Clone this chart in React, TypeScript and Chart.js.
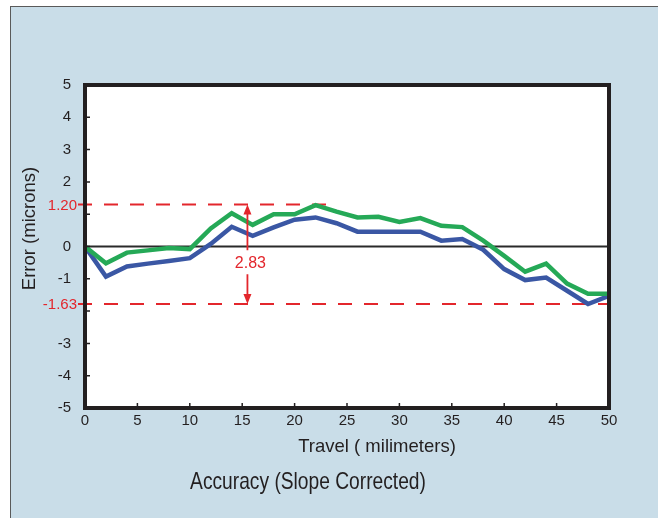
import React, { useEffect, useRef } from "react";
import { Chart, registerables } from "chart.js";

Chart.register(...registerables);

// ---- data ----
const travel = [0, 2, 4, 6, 8, 10, 12, 14, 16, 18, 20, 22, 24, 26, 28, 30, 32, 34, 36, 38, 40, 42, 44, 46, 48, 50];
const greenError = [0, -0.52, -0.19, -0.12, -0.05, -0.08, 0.56, 1.03, 0.67, 1.0, 1.0, 1.28, 1.08, 0.9, 0.92, 0.76, 0.88, 0.64, 0.6, 0.18, -0.29, -0.78, -0.53, -1.15, -1.46, -1.46];
const blueError = [0, -0.93, -0.62, -0.53, -0.45, -0.36, 0.08, 0.61, 0.33, 0.59, 0.83, 0.9, 0.72, 0.46, 0.46, 0.46, 0.46, 0.18, 0.23, -0.1, -0.7, -1.04, -0.96, -1.37, -1.78, -1.53];

const yMin = -5;
const yMax = 5;
const xMin = 0;
const xMax = 50;
const xStep = 5;
const yStep = 1;
const hiddenYTicks = [1, -2];

const limitLevels = [1.3, -1.78];
const limitLabels = ["1.20", "-1.63"];
const limitEnds = [24, 50];
const spanX = 15.5;
const spanLabel = "2.83";

const yTitle = "Error (microns)";
const xTitle = "Travel ( milimeters)";
const caption = "Accuracy (Slope Corrected)";

const TEXT = "#231f20";
const RED = "#e3262c";
const GREEN = "#25a957";
const BLUE = "#3a57a4";
const FONT = "'Liberation Sans', Arial, sans-serif";

const decorPlugin = {
  id: "decor",
  beforeDatasetsDraw(chart: any) {
    const { ctx, chartArea: a, scales } = chart;
    const x = scales.x;
    const y = scales.y;
    ctx.save();
    // zero line
    const y0 = y.getPixelForValue(0);
    ctx.strokeStyle = "#2a2a2a";
    ctx.lineWidth = 2;
    ctx.beginPath();
    ctx.moveTo(a.left, y0);
    ctx.lineTo(a.right, y0);
    ctx.stroke();
    // dashed limit lines
    ctx.strokeStyle = RED;
    ctx.lineWidth = 2;
    ctx.setLineDash([14, 12]);
    limitLevels.forEach((lv, i) => {
      const py = y.getPixelForValue(lv);
      ctx.beginPath();
      ctx.moveTo(a.left - 7, py);
      ctx.lineTo(x.getPixelForValue(limitEnds[i]), py);
      ctx.stroke();
    });
    ctx.setLineDash([]);
    ctx.restore();
  },
  afterDatasetsDraw(chart: any) {
    const { ctx, chartArea: a, scales } = chart;
    const x = scales.x;
    const y = scales.y;
    ctx.save();
    // frame
    ctx.strokeStyle = TEXT;
    ctx.lineWidth = 4;
    ctx.strokeRect(a.left, a.top, a.right - a.left, a.bottom - a.top);
    // inward ticks
    ctx.lineWidth = 1.5;
    ctx.beginPath();
    for (let v = yMin + yStep; v < yMax; v += yStep) {
      const py = y.getPixelForValue(v);
      ctx.moveTo(a.left, py);
      ctx.lineTo(a.left + 5, py);
    }
    for (let v = xMin + xStep; v < xMax; v += xStep) {
      const px = x.getPixelForValue(v);
      ctx.moveTo(px, a.bottom);
      ctx.lineTo(px, a.bottom - 5);
    }
    ctx.stroke();
    // red limit labels
    ctx.fillStyle = RED;
    ctx.font = `15px ${FONT}`;
    ctx.textAlign = "right";
    ctx.textBaseline = "middle";
    limitLevels.forEach((lv, i) => {
      ctx.fillText(limitLabels[i], a.left - 8, y.getPixelForValue(lv) + 1);
    });
    // span arrow
    const ax = x.getPixelForValue(spanX);
    const yTop = y.getPixelForValue(limitLevels[0]);
    const yBot = y.getPixelForValue(limitLevels[1]);
    const mid = (yTop + yBot) / 2 + 8;
    ctx.strokeStyle = RED;
    ctx.lineWidth = 1.8;
    ctx.beginPath();
    ctx.moveTo(ax, yTop + 4);
    ctx.lineTo(ax, mid - 12);
    ctx.moveTo(ax, mid + 12);
    ctx.lineTo(ax, yBot - 4);
    ctx.stroke();
    ctx.beginPath();
    ctx.moveTo(ax, yTop);
    ctx.lineTo(ax - 4, yTop + 10);
    ctx.lineTo(ax + 4, yTop + 10);
    ctx.closePath();
    ctx.moveTo(ax, yBot);
    ctx.lineTo(ax - 4, yBot - 10);
    ctx.lineTo(ax + 4, yBot - 10);
    ctx.closePath();
    ctx.fill();
    ctx.font = `16px ${FONT}`;
    ctx.textAlign = "center";
    ctx.fillText(spanLabel, ax + 3, mid + 1);
    // titles
    ctx.fillStyle = TEXT;
    ctx.font = `18.5px ${FONT}`;
    ctx.textAlign = "center";
    ctx.textBaseline = "middle";
    ctx.fillText(xTitle, (a.left + a.right) / 2 + 30, a.bottom + 39);
    ctx.save();
    ctx.translate(19, (a.top + a.bottom) / 2 - 18);
    ctx.rotate(-Math.PI / 2);
    ctx.fillText(yTitle, 0, 0);
    ctx.restore();
    // condensed caption
    ctx.save();
    ctx.translate(a.left + 223, a.bottom + 74);
    ctx.scale(0.8, 1);
    ctx.font = `24px ${FONT}`;
    ctx.fillText(caption, 0, 0);
    ctx.restore();
    ctx.restore();
  },
};

export default function App() {
  const ref = useRef<HTMLCanvasElement | null>(null);
  useEffect(() => {
    if (!ref.current) return;
    const chart = new Chart(ref.current, {
      type: "line",
      data: {
        datasets: [
          {
            label: "Green",
            data: travel.map((t, i) => ({ x: t, y: greenError[i] })),
            borderColor: GREEN,
            borderWidth: 4.5,
            pointRadius: 0,
            tension: 0,
            fill: false,
          },
          {
            label: "Blue",
            data: travel.map((t, i) => ({ x: t, y: blueError[i] })),
            borderColor: BLUE,
            borderWidth: 4.5,
            pointRadius: 0,
            tension: 0,
            fill: false,
          },
        ],
      },
      options: {
        animation: false,
        responsive: false,
        maintainAspectRatio: false,
        layout: { padding: { left: 0, top: 78, right: 49, bottom: 0 } },
        plugins: { legend: { display: false }, tooltip: { enabled: false } },
        scales: {
          x: {
            type: "linear",
            min: xMin,
            max: xMax,
            grid: { display: false, drawTicks: false },
            border: { display: false },
            ticks: {
              stepSize: xStep,
              padding: 4,
              color: TEXT,
              font: { family: FONT, size: 15 },
              maxRotation: 0,
              callback: (v: any) => String(v),
            },
            afterFit: (s: any) => {
              s.height = 110;
            },
          },
          y: {
            type: "linear",
            min: yMin,
            max: yMax,
            grid: { display: false, drawTicks: false },
            border: { display: false },
            ticks: {
              stepSize: yStep,
              padding: 14,
              color: TEXT,
              font: { family: FONT, size: 15 },
              callback: (v: any) => (hiddenYTicks.includes(Number(v)) ? "" : String(v)),
            },
            afterFit: (s: any) => {
              s.width = 74;
            },
          },
        },
      },
      plugins: [
        {
          id: "plotBg",
          beforeDatasetsDraw(chart: any) {
            const { ctx, chartArea: a } = chart;
            ctx.save();
            ctx.fillStyle = "#ffffff";
            ctx.fillRect(a.left, a.top, a.right - a.left, a.bottom - a.top);
            ctx.restore();
          },
        },
        decorPlugin,
      ],
    } as any);
    return () => chart.destroy();
  }, []);

  return (
    <div
      style={{
        position: "absolute",
        left: 10,
        top: 6,
        width: 648,
        height: 512,
        background: "#c9dde8",
        borderLeft: "1.5px solid #5a5a5a",
        borderTop: "1.5px solid #5a5a5a",
        boxSizing: "border-box",
      }}
    >
      <canvas ref={ref} width={647} height={511} style={{ display: "block" }} />
    </div>
  );
}
